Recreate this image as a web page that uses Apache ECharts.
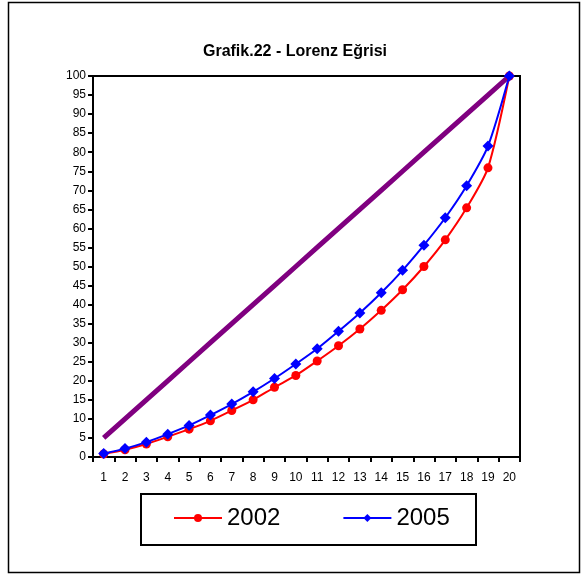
<!DOCTYPE html>
<html>
<head>
<meta charset="utf-8">
<script src="https://cdn.jsdelivr.net/npm/echarts@6/dist/echarts.min.js"></script>
<style>
html,body{margin:0;padding:0;background:#fff;}
#c{width:588px;height:576px;}
</style>
</head>
<body>
<div id="c"></div>
<script>
var categories = ['1','2','3','4','5','6','7','8','9','10','11','12','13','14','15','16','17','18','19','20'];
var equality = [5,10,15,20,25,30,35,40,45,50,55,60,65,70,75,80,85,90,95,100];
var values2002 = [0.8,1.9,3.4,5.3,7.3,9.5,12.2,15.0,18.3,21.4,25.2,29.2,33.6,38.5,43.9,50.0,57.0,65.4,75.9,100];
var values2005 = [0.9,2.2,3.9,6.0,8.3,11.0,13.9,17.1,20.6,24.4,28.4,33.0,37.8,43.1,49.0,55.6,62.8,71.2,81.6,100];
var yTicks = [0,5,10,15,20,25,30,35,40,45,50,55,60,65,70,75,80,85,90,95,100];

var chart = echarts.init(document.getElementById('c'), null, {renderer:'canvas'});
var font = 'Liberation Sans, Arial, sans-serif';
chart.setOption({
  backgroundColor:'#fff',
  animation:false,
  title:{
    text:'Grafik.22 - Lorenz Eğrisi',
    left:290, top:39, textAlign:'center',
    textStyle:{fontFamily:font,fontSize:16,fontWeight:'bold',color:'#000'}
  },
  graphic:[
    {type:'rect',shape:{x:8.5,y:2.5,width:571,height:570},style:{fill:null,stroke:'#000',lineWidth:1.5},silent:true,z:-1},
    {type:'rect',shape:{x:141,y:494,width:335,height:51},style:{fill:'#fff',stroke:'#000',lineWidth:2},silent:true,z:-1}
  ],
  legend:{
    data:['2002','2005'],
    left:173, top:506, padding:0,
    itemWidth:48, itemHeight:10, itemGap:62,
    textStyle:{fontFamily:font,fontSize:24,color:'#000'}
  },
  grid:{left:93,right:68,top:76,bottom:119,show:true,borderColor:'#000',borderWidth:2,backgroundColor:'#fff'},
  xAxis:{
    type:'category', data:categories, boundaryGap:true,
    axisLine:{lineStyle:{color:'#000',width:2}},
    axisTick:{show:true,length:5,lineStyle:{color:'#000',width:2}},
    axisLabel:{fontFamily:font,fontSize:12,color:'#000',margin:15,interval:0},
    splitLine:{show:false}
  },
  yAxis:{
    type:'value', min:yTicks[0], max:yTicks[yTicks.length-1], interval:5,
    axisLine:{show:true,lineStyle:{color:'#000',width:2}},
    axisTick:{show:true,length:5,lineStyle:{color:'#000',width:2}},
    axisLabel:{fontFamily:font,fontSize:12,color:'#000',margin:7},
    splitLine:{show:false}
  },
  series:[
    {name:'Equality',type:'line',data:equality,symbol:'none',lineStyle:{color:'#800080',width:5},itemStyle:{color:'#800080'},z:1},
    {name:'2002',type:'line',data:values2002,smooth:0.25,symbol:'circle',symbolSize:9,
     lineStyle:{color:'#ff0000',width:2},itemStyle:{color:'#ff0000'},z:2},
    {name:'2005',type:'line',data:values2005,smooth:0.25,symbol:'diamond',symbolSize:11,
     lineStyle:{color:'#0000ff',width:2},itemStyle:{color:'#0000ff'},z:3}
  ]
});
</script>
</body>
</html>
